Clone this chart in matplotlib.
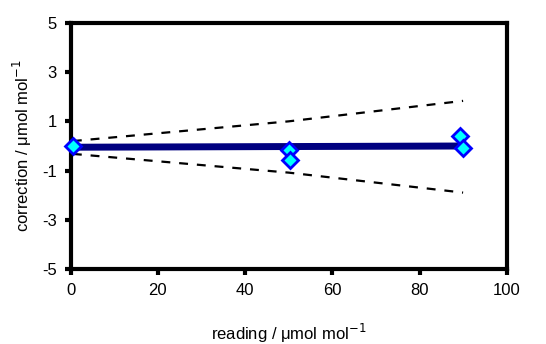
import matplotlib
matplotlib.use("Agg")
import matplotlib.pyplot as plt

# measured points
reading = [0.5, 50.0, 50.3, 89.4, 89.9]
correction = [0.0, -0.17, -0.57, 0.41, -0.09]

# fitted line and confidence bounds
fit_x = [0.0, 90.0]
fit_y = [-0.05, 0.0]
band_x = [0.5, 50.0, 90.0]
band_hi = [0.2, 1.0, 1.83]
band_lo = [-0.32, -1.08, -1.89]

plt.rcParams["font.family"] = ["Liberation Sans", "DejaVu Sans"]
plt.rcParams["axes.unicode_minus"] = False

fig = plt.figure(figsize=(5.46, 3.44), dpi=100)
ax = fig.add_axes([70.7 / 546, 1 - 269.3 / 344, 436 / 546, 246.6 / 344])

ax.plot(band_x, band_hi, "--", color="black", lw=1.6, dashes=(4, 4))
ax.plot(band_x, band_lo, "--", color="black", lw=1.6, dashes=(4, 4))
ax.plot(fit_x, fit_y, "-", color="#000080", lw=5, solid_capstyle="butt", zorder=3)
ax.plot(reading, correction, "D", ms=8, mfc="#00ffff", mec="#0000ff", mew=2, ls="none", zorder=4, clip_on=False)

ax.set_xlim(0, 100)
ax.set_ylim(-5, 5)
ax.set_xticks([0, 20, 40, 60, 80, 100])
ax.set_yticks([-5, -3, -1, 1, 3, 5])
ax.tick_params(direction="out", length=4, width=3, labelsize=12, pad=6)
for s in ax.spines.values():
    s.set_linewidth(3)

ax.set_xlabel("reading / μmol mol$^{-1}$", fontsize=12, labelpad=17)
ax.set_ylabel("correction / μmol mol$^{-1}$", fontsize=12, labelpad=6)

fig.savefig("out.png", dpi=100)
